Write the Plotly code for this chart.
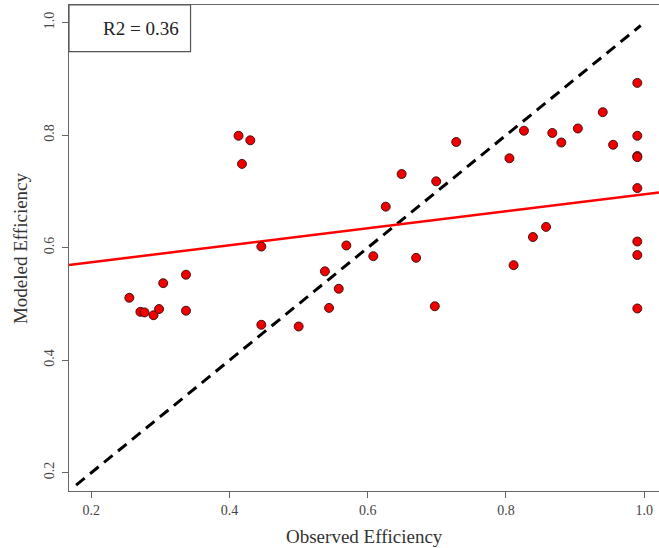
import plotly.graph_objects as go

# ---- data ----
observed = [0.255, 0.271, 0.277, 0.290, 0.298, 0.304, 0.337, 0.337,
            0.413, 0.430, 0.418, 0.446, 0.446, 0.500, 0.538, 0.544,
            0.558, 0.569, 0.608, 0.626, 0.649, 0.670, 0.697, 0.699,
            0.728, 0.805, 0.811, 0.826, 0.839, 0.858, 0.867, 0.880,
            0.904, 0.940, 0.955, 0.990, 0.990, 0.990, 0.990, 0.990,
            0.990, 0.990, 0.990]
modeled = [0.511, 0.486, 0.485, 0.480, 0.491, 0.537, 0.552, 0.488,
           0.799, 0.791, 0.749, 0.602, 0.463, 0.460, 0.558, 0.493,
           0.527, 0.604, 0.585, 0.673, 0.731, 0.582, 0.496, 0.718,
           0.788, 0.759, 0.569, 0.808, 0.619, 0.637, 0.804, 0.787,
           0.812, 0.841, 0.783, 0.893, 0.799, 0.763, 0.761, 0.706,
           0.611, 0.587, 0.492]
fit_intercept = 0.544
fit_slope = 0.151
one_to_one = [0.178, 0.995]
r2_label = "R2 = 0.36"
x_title = "Observed Efficiency"
y_title = "Modeled Efficiency"
tick_vals = [0.2, 0.4, 0.6, 0.8, 1.0]
tick_text = ["0.2", "0.4", "0.6", "0.8", "1.0"]

x_range = [0.1677, 1.0214]
y_range = [0.1675, 1.0315]

FONT = "Liberation Serif"

fig = go.Figure()

fig.add_trace(go.Scatter(
    x=one_to_one, y=one_to_one, mode="lines",
    line=dict(color="black", width=3, dash="11px,7px"),
    hoverinfo="skip", showlegend=False))

fig.add_trace(go.Scatter(
    x=x_range, y=[fit_intercept + fit_slope * v for v in x_range], mode="lines",
    line=dict(color="#ff0000", width=2.5),
    hoverinfo="skip", showlegend=False))

fig.add_trace(go.Scatter(
    x=observed, y=modeled, mode="markers",
    marker=dict(size=9, color="#ee0000", line=dict(color="#3a0a0a", width=0.9)),
    showlegend=False))

fig.add_shape(type="rect", xref="paper", yref="paper",
              x0=0, x1=0.206, y0=0.904, y1=1.0,
              line=dict(color="#555555", width=1.2), fillcolor="white", layer="above")
fig.add_annotation(xref="paper", yref="paper", x=0.19, y=0.951,
                   xanchor="right", yanchor="middle", text=r2_label, showarrow=False,
                   font=dict(family=FONT, size=19, color="#222222"))

# axis titles
fig.add_annotation(xref="paper", yref="paper", x=0.5, y=-0.0926,
                   xanchor="center", yanchor="middle", text=x_title, showarrow=False,
                   font=dict(family=FONT, size=19, color="#333333"))
fig.add_annotation(xref="paper", yref="paper", x=-0.083, y=0.5,
                   xanchor="center", yanchor="middle", text=y_title, showarrow=False,
                   textangle=-90,
                   font=dict(family=FONT, size=19, color="#333333"))

fig.update_layout(
    width=659, height=548,
    margin=dict(l=69, r=0, t=5, b=57),
    paper_bgcolor="white", plot_bgcolor="white",
    font=dict(family=FONT, color="#333333"),
    xaxis=dict(range=x_range, tickvals=tick_vals, ticktext=tick_text,
               automargin=False,
               showgrid=False, zeroline=False, showline=True, mirror=True,
               linecolor="#666666", linewidth=1.2,
               ticks="outside", ticklen=6, tickcolor="#666666",
               tickfont=dict(family=FONT, size=14, color="#444444"),
               ticklabelstandoff=0),
    yaxis=dict(range=y_range, tickvals=tick_vals, ticktext=tick_text,
               automargin=False,
               showgrid=False, zeroline=False, showline=True,
               linecolor="#666666", linewidth=1.2,
               ticks="outside", ticklen=6, tickcolor="#666666",
               tickangle=-90,
               tickfont=dict(family=FONT, size=14, color="#444444"),
               ticklabelstandoff=2),
)

fig.write_html("out.html",
               config={"displayModeBar": False},
               post_script="document.body.style.margin='0px';document.body.style.overflow='hidden';")
